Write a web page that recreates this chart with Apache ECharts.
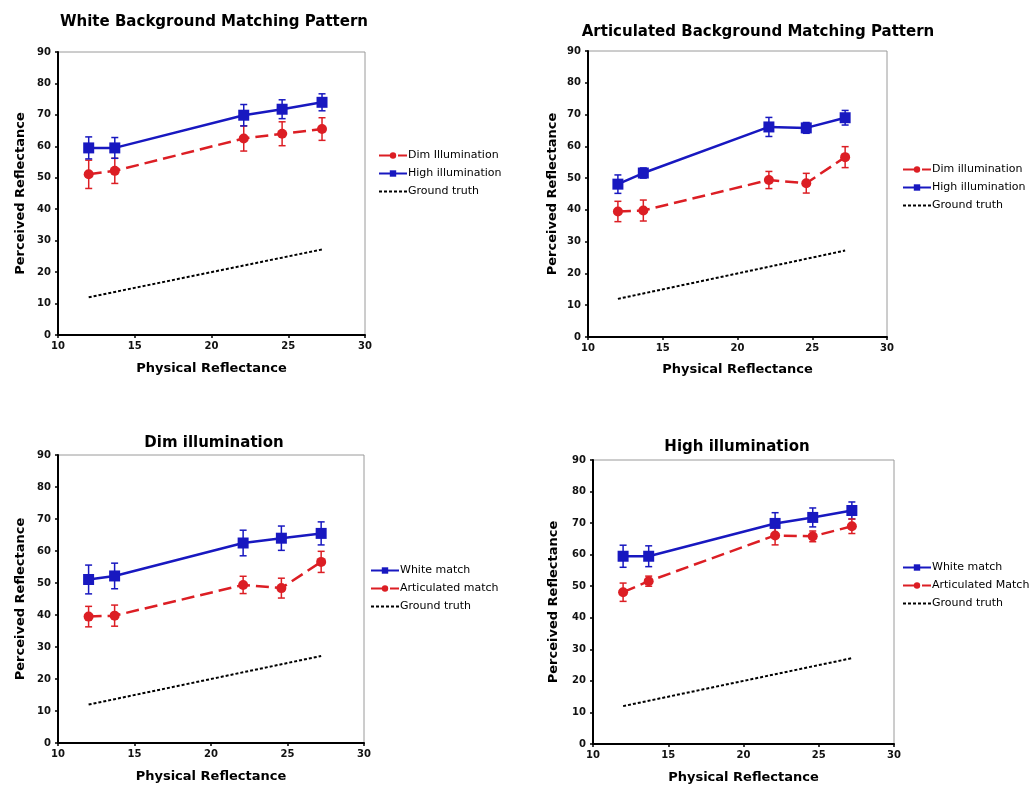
<!DOCTYPE html>
<html>
<head>
<meta charset="utf-8">
<script src="https://cdn.jsdelivr.net/npm/echarts@6/dist/echarts.min.js"></script>
<style>html,body{margin:0;padding:0;background:#fff}#c{width:1031px;height:787px}</style>
</head>
<body>
<div id="c"></div>
<script>
// ---- data ----
const xVals = [12, 13.7, 22.1, 24.6, 27.2];
const groundTruth = [12, 13.7, 22.1, 24.6, 27.2];
const whiteDim = [51.1, 52.2, 62.5, 64.0, 65.5];
const whiteDimErr = [4.5, 4.0, 4.0, 3.8, 3.6];
const whiteHigh = [59.5, 59.5, 69.9, 71.8, 74.0];
const whiteHighErr = [3.5, 3.3, 3.4, 3.0, 2.7];
const artDim = [39.5, 39.8, 49.4, 48.4, 56.6];
const artDimErr = [3.2, 3.3, 2.7, 3.1, 3.3];
const artHigh = [48.1, 51.6, 66.1, 65.8, 69.0];
const artHighErr = [2.9, 1.6, 3.0, 1.7, 2.3];
const xTicks = [10, 15, 20, 25, 30];
const yTicks = [0, 10, 20, 30, 40, 50, 60, 70, 80, 90];
const titles = ['White Background Matching Pattern', 'Articulated Background Matching Pattern', 'Dim illumination', 'High illumination'];
const legendLabels = [
  ['Dim Illumination', 'High illumination', 'Ground truth'],
  ['Dim illumination', 'High illumination', 'Ground truth'],
  ['White match', 'Articulated match', 'Ground truth'],
  ['White match', 'Articulated Match', 'Ground truth']
];

// ---- layout / style ----
const RED = '#dc1e24', BLUE = '#1818c0';
const FONT = '"DejaVu Sans", Verdana, sans-serif';
const panels = [
  { grid: {left: 58, top: 52, width: 307, height: 283}, title: [209, 10], legend: [378, 149], xGap: 27, yGap: 31,
    lines: [{v: whiteDim, e: whiteDimErr, c: 'red'}, {v: whiteHigh, e: whiteHighErr, c: 'blue'}] },
  { grid: {left: 588, top: 51, width: 299, height: 286}, title: [753, 20], legend: [902, 163], xGap: 26, yGap: 29,
    lines: [{v: artDim, e: artDimErr, c: 'red'}, {v: artHigh, e: artHighErr, c: 'blue'}] },
  { grid: {left: 58, top: 455, width: 306, height: 288}, title: [209, 431], legend: [370, 564], xGap: 27, yGap: 31,
    lines: [{v: whiteDim, e: whiteDimErr, c: 'blue'}, {v: artDim, e: artDimErr, c: 'red'}] },
  { grid: {left: 593, top: 460, width: 301, height: 284}, title: [732, 435], legend: [902, 561], xGap: 27, yGap: 33,
    lines: [{v: whiteHigh, e: whiteHighErr, c: 'blue'}, {v: artHigh, e: artHighErr, c: 'red'}] }
];

const nameMap = {};
const option = {
  animation: false,
  backgroundColor: '#fff',
  title: [], grid: [], xAxis: [], yAxis: [], legend: [], series: []
};

panels.forEach((p, i) => {
  option.title.push({
    text: titles[i], left: p.title[0], top: p.title[1], textAlign: 'center',
    textStyle: {fontFamily: FONT, fontSize: 15, fontWeight: 'bold', color: '#000'}
  });
  option.grid.push(Object.assign({show: true, borderColor: '#9a9a9a', borderWidth: 1, backgroundColor: '#fff'}, p.grid));
  option.xAxis.push({
    type: 'value', gridIndex: i, min: xTicks[0], max: xTicks[xTicks.length - 1], interval: 5,
    name: 'Physical Reflectance', nameLocation: 'middle', nameGap: p.xGap,
    nameTextStyle: {fontFamily: FONT, fontSize: 13, fontWeight: 'bold', color: '#000'},
    axisLine: {show: true, onZero: false, lineStyle: {color: '#000', width: 2}},
    axisTick: {show: true, length: 3, lineStyle: {color: '#000', width: 1.5}},
    axisLabel: {fontFamily: FONT, fontSize: 10, fontWeight: 'bold', color: '#111', margin: 6},
    splitLine: {show: false}
  });
  option.yAxis.push({
    type: 'value', gridIndex: i, min: yTicks[0], max: yTicks[yTicks.length - 1], interval: 10,
    name: 'Perceived Reflectance', nameLocation: 'middle', nameGap: p.yGap, nameRotate: 90,
    nameTextStyle: {fontFamily: FONT, fontSize: 13, fontWeight: 'bold', color: '#000'},
    axisLine: {show: true, onZero: false, lineStyle: {color: '#000', width: 2}},
    axisTick: {show: true, length: 3, lineStyle: {color: '#000', width: 1.5}},
    axisLabel: {fontFamily: FONT, fontSize: 10, fontWeight: 'bold', color: '#111', margin: 7},
    splitLine: {show: false}
  });
  const names = [];
  p.lines.forEach((ln, k) => {
    const col = ln.c === 'red' ? RED : BLUE;
    const nm = 'p' + i + '_' + k;
    nameMap[nm] = legendLabels[i][k];
    names.push(nm);
    // error bars
    option.series.push({
      type: 'custom', xAxisIndex: i, yAxisIndex: i, z: 2, silent: true,
      data: xVals.map((x, j) => [x, ln.v[j] - ln.e[j], ln.v[j] + ln.e[j]]),
      renderItem: (params, api) => {
        const lo = api.coord([api.value(0), api.value(1)]);
        const hi = api.coord([api.value(0), api.value(2)]);
        const w = 3.5;
        const st = {stroke: col, lineWidth: 1.5};
        return {type: 'group', children: [
          {type: 'line', shape: {x1: lo[0], y1: lo[1], x2: hi[0], y2: hi[1]}, style: st},
          {type: 'line', shape: {x1: lo[0] - w, y1: lo[1], x2: lo[0] + w, y2: lo[1]}, style: st},
          {type: 'line', shape: {x1: hi[0] - w, y1: hi[1], x2: hi[0] + w, y2: hi[1]}, style: st}
        ]};
      }
    });
    option.series.push({
      type: 'line', name: nm, xAxisIndex: i, yAxisIndex: i, z: 3,
      data: xVals.map((x, j) => [x, ln.v[j]]),
      symbol: ln.c === 'red' ? 'circle' : 'rect',
      symbolSize: ln.c === 'red' ? 10 : 11,
      itemStyle: {color: col},
      lineStyle: {color: col, width: 2.5, type: ln.c === 'red' ? [13, 6] : 'solid'}
    });
  });
  const gn = 'p' + i + '_g';
  nameMap[gn] = legendLabels[i][2];
  names.push(gn);
  option.series.push({
    type: 'line', name: gn, xAxisIndex: i, yAxisIndex: i, z: 3,
    data: xVals.map((x, j) => [x, groundTruth[j]]),
    symbol: 'none',
    itemStyle: {color: '#000'},
    lineStyle: {color: '#000', width: 2, type: [3, 2]}
  });
  option.legend.push({
    data: names.map(n => n.endsWith('_g') ? {name: n, itemStyle: {opacity: 0}} : n),
    left: p.legend[0], top: p.legend[1] + 1, orient: 'vertical',
    itemWidth: 28, itemHeight: 8, itemGap: 7, padding: 0,
    selectedMode: false,
    formatter: n => nameMap[n],
    textStyle: {fontFamily: FONT, fontSize: 11, color: '#000', padding: [0, 0, 0, -4]}
  });
});

const chart = echarts.init(document.getElementById('c'), null, {renderer: 'canvas'});
chart.setOption(option);
</script>
</body>
</html>
